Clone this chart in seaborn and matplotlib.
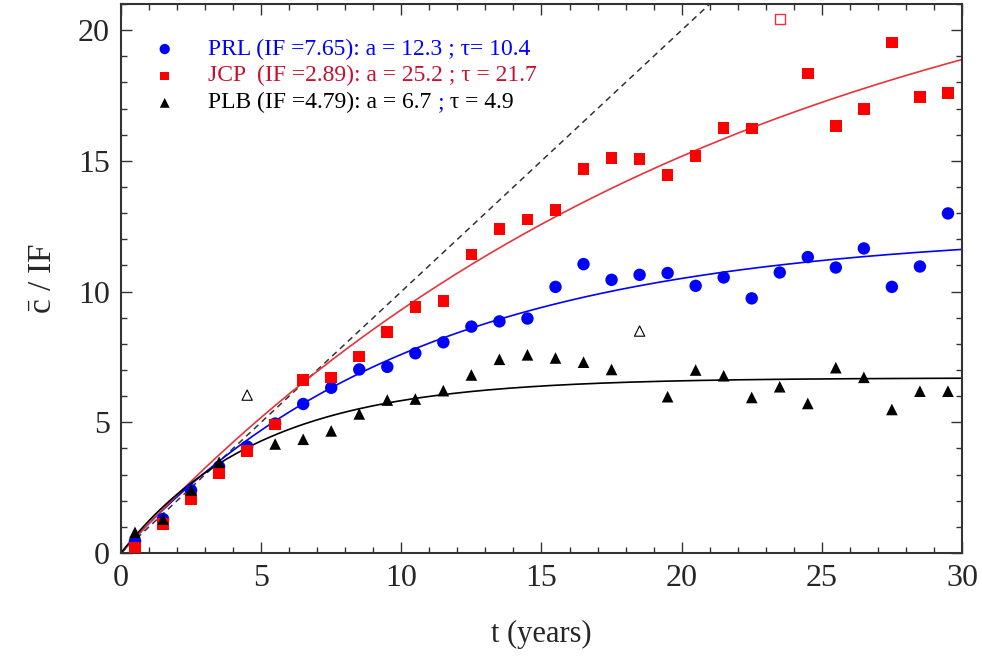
import numpy as np
import pandas as pd
import seaborn as sns
import matplotlib.pyplot as plt
from matplotlib.ticker import MultipleLocator

# ages of the papers (years) at which the mean citations were sampled
t_years = [0.5, 1.5, 2.5, 3.5, 4.5, 5.5, 6.5, 7.5, 8.5, 9.5,
           10.5, 11.5, 12.5, 13.5, 14.5, 15.5, 16.5, 17.5, 18.5, 19.5,
           20.5, 21.5, 22.5, 23.5, 24.5, 25.5, 26.5, 27.5, 28.5, 29.5]

prl_vals = [0.45, 1.3, 2.4, 3.3, 4.07, 4.95, 5.70, 6.32, 7.02, 7.12,
            7.64, 8.06, 8.66, 8.86, 8.97, 10.18, 11.05, 10.45, 10.64, 10.71,
            10.22, 10.54, 9.74, 10.73, 11.32, 10.92, 11.65, 10.18, 10.96, 12.99]

# nan where the point is an outlier drawn open
jcp_vals = [0.18, 1.11, 2.07, 3.06, 3.91, 4.92, 6.62, 6.72, 7.51, 8.46,
            9.42, 9.65, 11.42, 12.39, 12.76, 13.12, 14.68, 15.10, 15.07, 14.47,
            15.18, 16.26, 16.24, np.nan, 18.34, 16.33, 16.98, 19.53, 17.45, 17.60]

plb_vals = [0.79, 1.30, 2.41, 3.47, np.nan, 4.17, 4.35, 4.67, 5.32, 5.85,
            5.89, 6.21, 6.81, 7.41, 7.58, 7.46, 7.30, 7.02, np.nan, 5.98,
            7.00, 6.78, 5.95, 6.36, 5.72, 7.09, 6.72, 5.49, 6.19, 6.19]

# outliers (open symbols)
jcp_out_t = [23.5]
jcp_out_v = [20.42]
plb_out_t = [4.5, 18.5]
plb_out_v = [6.04, 8.49]

# fit parameters c/IF = a (1 - exp(-t/tau))
fit_a = {"PRL": 12.3, "JCP": 25.2, "PLB": 6.7}
fit_tau = {"PRL": 10.4, "JCP": 21.7, "PLB": 4.9}

BLUE = "#0000ff"
RED = "#ff0000"
RED_LINE = "#e8333c"
RED_TXT = "#c8102e"

sns.set_style("ticks")
plt.rcParams['font.family'] = ['Liberation Serif', 'DejaVu Serif']
plt.rcParams['mathtext.fontset'] = 'custom'
plt.rcParams['mathtext.rm'] = 'Liberation Serif'

fig = plt.figure(figsize=(9.82, 6.61), dpi=100)
ax = fig.add_axes([0.1232, 0.1634, 0.8564, 0.8305])

tt = np.linspace(0, 30, 300)
fits = pd.DataFrame({"t": tt})
for k in fit_a:
    fits[k] = fit_a[k] * (1 - np.exp(-tt / fit_tau[k]))

ax.plot([0, 30], [0, 30], ls=(0, (4, 3)), color="#333333", lw=1.1)
sns.lineplot(data=fits, x="t", y="PRL", color=BLUE, lw=1.2, ax=ax)
sns.lineplot(data=fits, x="t", y="JCP", color=RED_LINE, lw=1.2, ax=ax)
sns.lineplot(data=fits, x="t", y="PLB", color="black", lw=1.2, ax=ax)

pts = pd.DataFrame({"t": t_years, "PRL": prl_vals, "JCP": jcp_vals, "PLB": plb_vals})
sns.scatterplot(data=pts, x="t", y="PRL", marker="o", s=80, color=BLUE,
                edgecolor="none", ax=ax, zorder=3)
sns.scatterplot(data=pts, x="t", y="JCP", marker="s", s=70, color=RED,
                edgecolor="none", ax=ax, zorder=4)
sns.scatterplot(data=pts, x="t", y="PLB", marker="^", s=70, color="black",
                edgecolor="none", ax=ax, zorder=5)
ax.scatter(jcp_out_t, jcp_out_v, marker="s", s=55, facecolor="none",
           edgecolor=RED_LINE, linewidth=1.0, zorder=4)
ax.scatter(plb_out_t, plb_out_v, marker="^", s=55, facecolor="none",
           edgecolor="black", linewidth=0.8, zorder=4)

ax.set_xlim(0, 30)
ax.set_ylim(0, 21)
ax.xaxis.set_major_locator(MultipleLocator(5))
ax.xaxis.set_minor_locator(MultipleLocator(1))
ax.yaxis.set_major_locator(MultipleLocator(5))
ax.yaxis.set_minor_locator(MultipleLocator(1))
ax.tick_params(which="both", direction="in", top=True, right=True,
               color="#333333", width=1.0)
ax.tick_params(which="major", length=8, labelsize=23, pad=8)
ax.tick_params(which="minor", length=4)
for sp in ax.spines.values():
    sp.set_color("#333333")
    sp.set_linewidth(1.5)

ax.set_xlabel("t (years)", fontsize=22, labelpad=19)
ax.set_ylabel(r"$\bar{\rm c}$ / IF", fontsize=24, labelpad=14)

# legend drawn by hand so each line gets its own colour
leg_y = [0.918, 0.869, 0.820]
ax.scatter([0.052], [leg_y[0]], transform=ax.transAxes, marker="o", s=55,
           color=BLUE, edgecolor="none", clip_on=False)
ax.scatter([0.052], [leg_y[1]], transform=ax.transAxes, marker="s", s=40,
           color=RED, edgecolor="none", clip_on=False)
ax.scatter([0.052], [leg_y[2]], transform=ax.transAxes, marker="^", s=50,
           color="black", edgecolor="none", clip_on=False)
fs = 17
ax.text(0.104, leg_y[0], "PRL (IF =7.65): a = 12.3 ; \u03c4= 10.4", color=BLUE,
        fontsize=fs, va="center", transform=ax.transAxes)
ax.text(0.104, leg_y[1], "JCP  (IF =2.89): a = 25.2 ; \u03c4 = 21.7", color=RED_TXT,
        fontsize=fs, va="center", transform=ax.transAxes)
t1 = ax.text(0.104, leg_y[2], "PLB (IF =4.79): a = 6.7 ", color="black",
             fontsize=fs, va="center", transform=ax.transAxes)
t2 = ax.annotate(";", xy=(1, 0), xycoords=t1, va="bottom", color=BLUE, fontsize=fs)
ax.annotate(" \u03c4 = 4.9", xy=(1, 0), xycoords=t2, va="bottom", color="black", fontsize=fs)

fig.savefig("out.png", dpi=100)
